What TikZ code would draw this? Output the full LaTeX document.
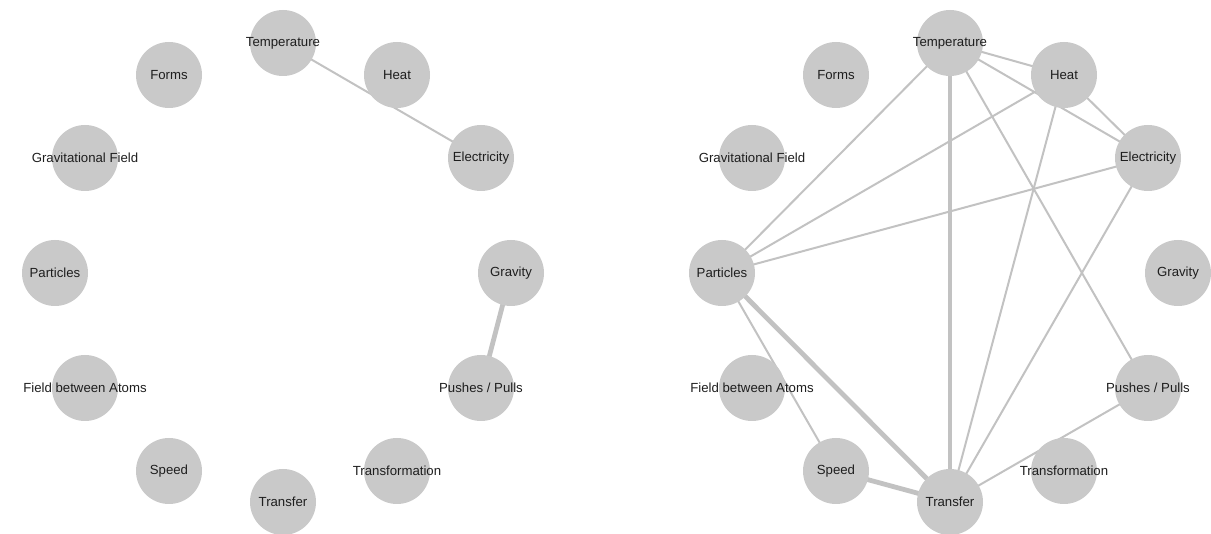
\documentclass[tikz,border=0pt]{standalone}
\usepackage{fontspec}
\setmainfont{Liberation Sans}
\usetikzlibrary{backgrounds}
\definecolor{nodegray}{HTML}{C9C9C9}
\definecolor{edgegray}{HTML}{C2C2C2}
\definecolor{txt}{HTML}{1E1E1E}
\begin{document}
\begin{tikzpicture}[x=1pt,y=-1pt,
  vtx/.style={circle,fill=nodegray,minimum size=66pt,inner sep=0pt,
    label={[text=txt,font=\fontsize{13.2}{15}\selectfont,inner sep=0pt]center:#1}},
  thinedge/.style={draw=edgegray,line width=2pt},
  thickedge/.style={draw=edgegray,line width=4.8pt}]
\useasboundingbox (0,0) rectangle (1211,534);
% ---------- left graph ----------
\node[vtx=Temperature] (lTemp) at (283,43) {};
\node[vtx=Heat] (lHeat) at (397,75) {};
\node[vtx=Electricity] (lElec) at (481,158) {};
\node[vtx=Gravity] (lGrav) at (511,273) {};
\node[vtx={Pushes / Pulls}] (lPush) at (481,388) {};
\node[vtx=Transformation] (lTrans) at (397,471) {};
\node[vtx=Transfer] (lTransf) at (283,502) {};
\node[vtx=Speed] (lSpeed) at (169,471) {};
\node[vtx={Field between Atoms}] (lField) at (85,388) {};
\node[vtx=Particles] (lPart) at (55,273) {};
\node[vtx={Gravitational Field}] (lGField) at (85,158) {};
\node[vtx=Forms] (lForms) at (169,75) {};
% ---------- right graph ----------
\node[vtx=Temperature] (rTemp) at (950,43) {};
\node[vtx=Heat] (rHeat) at (1064,75) {};
\node[vtx=Electricity] (rElec) at (1148,158) {};
\node[vtx=Gravity] (rGrav) at (1178,273) {};
\node[vtx={Pushes / Pulls}] (rPush) at (1148,388) {};
\node[vtx=Transformation] (rTrans) at (1064,471) {};
\node[vtx=Transfer] (rTransf) at (950,502) {};
\node[vtx=Speed] (rSpeed) at (836,471) {};
\node[vtx={Field between Atoms}] (rField) at (752,388) {};
\node[vtx=Particles] (rPart) at (722,273) {};
\node[vtx={Gravitational Field}] (rGField) at (752,158) {};
\node[vtx=Forms] (rForms) at (836,75) {};
% ---------- edges ----------
\begin{pgfonlayer}{background}
\draw[thinedge] (lTemp.center) -- (lElec.center);
\draw[thickedge] (lGrav.center) -- (lPush.center);
\draw[thinedge] (rTemp.center) -- (rHeat.center);
\draw[thinedge] (rTemp.center) -- (rElec.center);
\draw[thinedge] (rTemp.center) -- (rPart.center);
\draw[thickedge] (rTemp.center) -- (rTransf.center);
\draw[thinedge] (rTemp.center) -- (rPush.center);
\draw[thinedge] (rHeat.center) -- (rElec.center);
\draw[thinedge] (rHeat.center) -- (rPart.center);
\draw[thinedge] (rHeat.center) -- (rTransf.center);
\draw[thinedge] (rElec.center) -- (rPart.center);
\draw[thinedge] (rElec.center) -- (rTransf.center);
\draw[thickedge] (rPart.center) -- (rTransf.center);
\draw[thinedge] (rPart.center) -- (rSpeed.center);
\draw[thickedge] (rSpeed.center) -- (rTransf.center);
\draw[thinedge] (rPush.center) -- (rTransf.center);
\end{pgfonlayer}
\end{tikzpicture}
\end{document}
